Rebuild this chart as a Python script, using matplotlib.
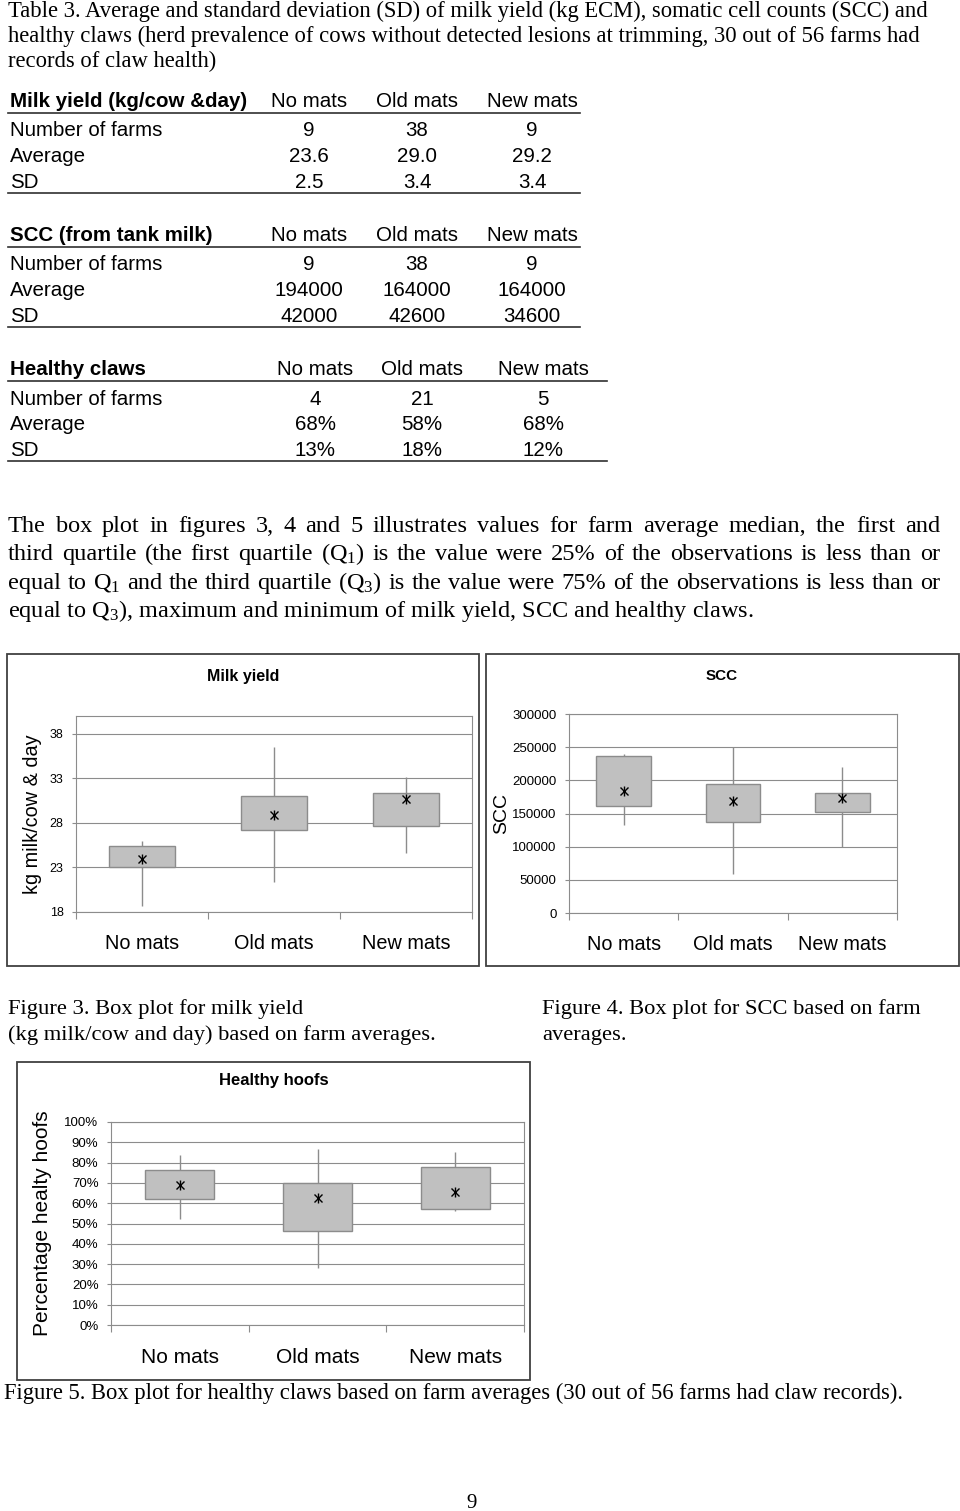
import numpy as np
import matplotlib.pyplot as plt
from matplotlib.patches import Rectangle
from matplotlib.lines import Line2D

plt.rcParams['font.family'] = ['Liberation Serif', 'DejaVu Serif']
plt.rcParams['mathtext.default'] = 'regular'

W, H = 960, 1511
SANS = 'Liberation Sans'

groups = ['No mats', 'Old mats', 'New mats']

# Table 3 values
milk_n = [9, 38, 9]
milk_avg = [23.6, 29.0, 29.2]
milk_sd = [2.5, 3.4, 3.4]
scc_n = [9, 38, 9]
scc_avg = [194000, 164000, 164000]
scc_sd = [42000, 42600, 34600]
claw_n = [4, 21, 5]
claw_avg = [68, 58, 68]
claw_sd = [13, 18, 12]

# box plots: min, Q1, median, Q3, max
milk_min = [18.7, 21.4, 24.6]
milk_q1 = [23.1, 27.2, 27.6]
milk_med = [23.9, 28.9, 30.7]
milk_q3 = [25.4, 31.0, 31.4]
milk_max = [26.0, 36.5, 33.1]

scc_min = [132000, 59000, 99000]
scc_q1 = [162000, 137000, 152000]
scc_med = [184000, 169000, 173000]
scc_q3 = [236000, 194000, 181000]
scc_max = [240000, 250000, 220000]

claw_min = [52, 28, 56]
claw_q1 = [62, 46.5, 57]
claw_med = [69, 62.8, 65.4]
claw_q3 = [76.3, 70, 77.8]
claw_max = [83.5, 86.8, 85.2]

fig = plt.figure(figsize=(W / 100, H / 100), dpi=100)


def fy(y):
    return 1 - y / H


def txt(x, y, s, **kw):
    return fig.text(x / W, fy(y), s, va='baseline', **kw)


def hline(x0, x1, y, lw=1.2, color='#303030'):
    fig.add_artist(Line2D([x0 / W, x1 / W], [fy(y), fy(y)], color=color, lw=lw))


def frame(x0, y0, x1, y1):
    fig.add_artist(Rectangle((x0 / W, fy(y1)), (x1 - x0) / W, (y1 - y0) / H,
                             fill=False, ec='#404040', lw=1.3, transform=fig.transFigure))


def justify(words, x0, x1, y, size):
    ts = [txt(0, y, w, fontsize=size) for w in words]
    r = fig.canvas.get_renderer()
    widths = [t.get_window_extent(r).width for t in ts]
    gap = (x1 - x0 - sum(widths)) / (len(words) - 1)
    x = x0
    for t, w in zip(ts, widths):
        t.set_x(x / W)
        x += w + gap


# caption of table
cap = ['Table 3. Average and standard deviation (SD) of milk yield (kg ECM), somatic cell counts (SCC) and',
       'healthy claws (herd prevalence of cows without detected lesions at trimming, 30 out of 56 farms had',
       'records of claw health)']
for i, line in enumerate(cap):
    txt(8, 17 + 25 * i, line, fontsize=16.3)

TS = 14.8


def table(title, n, avg, sd, cols, xend, base):
    txt(10, base, title, fontsize=TS, fontweight='bold', family=SANS)
    for c, g in zip(cols, groups):
        txt(c, base, g, fontsize=TS, family=SANS, ha='center')
    hline(8, xend, base + 6)
    for k, (lab, vals) in enumerate(zip(['Number of farms', 'Average', 'SD'], [n, avg, sd])):
        yb = base + 29.5 + 26 * k
        txt(10, yb, lab, fontsize=TS, family=SANS)
        for c, v in zip(cols, vals):
            txt(c, yb, v, fontsize=TS, family=SANS, ha='center')
    hline(8, xend, base + 86)


table('Milk yield (kg/cow &day)', [str(v) for v in milk_n], [f'{v:.1f}' for v in milk_avg],
      [f'{v:.1f}' for v in milk_sd], [309, 417, 532], 580, 107)
table('SCC (from tank milk)', [str(v) for v in scc_n], [str(v) for v in scc_avg],
      [str(v) for v in scc_sd], [309, 417, 532], 580, 241)
table('Healthy claws', [str(v) for v in claw_n], [f'{v}%' for v in claw_avg],
      [f'{v}%' for v in claw_sd], [315, 422, 543], 607, 375)

# paragraph
PS = 17.5
para = ['The box plot in figures 3, 4 and 5 illustrates values for farm average median, the first and',
        'third quartile (the first quartile (Q$_1$) is the value were 25% of the observations is less than or',
        'equal to Q$_1$ and the third quartile (Q$_3$) is the value were 75% of the observations is less than or']
for i, line in enumerate(para):
    justify(line.split(' '), 8, 940, 532 + 28.3 * i, PS)
txt(8, 532 + 28.3 * 3, 'equal to Q$_3$), maximum and minimum of milk yield, SCC and healthy claws.', fontsize=PS)


def boxchart(px, mins, q1, med, q3, maxs, ylim, yticks, ylabels, ylabel, lab_x,
             ticksize, catsize, labsize, catpad):
    x0, y0, x1, y1 = px
    ax = fig.add_axes([x0 / W, fy(y1), (x1 - x0) / W, (y1 - y0) / H])
    pos = np.arange(len(groups))
    q1 = np.array(q1)
    q3 = np.array(q3)
    ax.vlines(pos, mins, maxs, color='#8c8c8c', lw=1, zorder=2)
    ax.bar(pos, q3 - q1, bottom=q1, width=0.5, color='#c0c0c0', edgecolor='#8c8c8c', lw=1, zorder=3)
    ax.plot(pos, med, ls='none', marker='x', ms=6, mew=1, color='black', zorder=4)
    ax.plot(pos, med, ls='none', marker='|', ms=7, mew=1, color='black', zorder=4)
    ax.set_xlim(-0.5, 2.5)
    ax.set_ylim(ylim)
    ax.set_yticks(yticks, ylabels, fontsize=ticksize, family=SANS)
    ax.set_xticks([-0.5, 0.5, 1.5, 2.5], ['', '', '', ''])
    ax.set_xticks(pos, groups, minor=True, fontsize=catsize, family=SANS)
    ax.tick_params(axis='x', which='minor', length=0, pad=catpad)
    ax.tick_params(axis='x', which='major', length=5, color='#8c8c8c')
    ax.tick_params(axis='y', length=3, pad=6, color='#8c8c8c')
    ax.yaxis.grid(True, color='#8c8c8c', lw=0.8)
    ax.set_axisbelow(True)
    for s in ax.spines.values():
        s.set_color('#8c8c8c')
    ax.set_ylabel(ylabel, fontsize=labsize, family=SANS, va='center')
    ax.yaxis.set_label_coords(lab_x, 0.5)
    return ax


# Figure 3 - milk yield
frame(7, 654, 479, 966)
fig.text(243 / W, fy(676), 'Milk yield', fontsize=11.5, fontweight='bold', family=SANS, ha='center', va='center')
boxchart((76, 716, 472, 912), milk_min, milk_q1, milk_med, milk_q3, milk_max, (18, 40),
         [18, 23, 28, 33, 38], ['18', '23', '28', '33', '38'], 'kg milk/cow & day', -0.111,
         9, 14.3, 14.3, 16)

# Figure 4 - SCC
frame(486, 654, 959, 966)
fig.text(722 / W, fy(676), 'SCC', fontsize=11, fontweight='bold', family=SANS, ha='center', va='center')
sticks = list(range(0, 300001, 50000))
boxchart((569, 714, 897, 913), scc_min, scc_q1, scc_med, scc_q3, scc_max, (0, 300000),
         sticks, [str(v) for v in sticks], 'SCC', -0.204, 9.5, 14.3, 14, 16)

txt(8, 1014, 'Figure 3. Box plot for milk yield', fontsize=16.2)
txt(8, 1040, '(kg milk/cow and day) based on farm averages.', fontsize=16.2)
txt(542, 1014, 'Figure 4. Box plot for SCC based on farm', fontsize=16.2)
txt(542, 1040, 'averages.', fontsize=16.2)

# Figure 5 - healthy claws
frame(17, 1062, 530, 1380)
fig.text(274 / W, fy(1080), 'Healthy hoofs', fontsize=12, fontweight='bold', family=SANS, ha='center', va='center')
cticks = list(range(0, 101, 10))
boxchart((111, 1122, 524, 1325), claw_min, claw_q1, claw_med, claw_q3, claw_max, (0, 100),
         cticks, [f'{v}%' for v in cticks], 'Percentage healty hoofs', -0.165, 9.5, 15, 15, 16.5)

txt(4, 1399, 'Figure 5. Box plot for healthy claws based on farm averages (30 out of 56 farms had claw records).',
    fontsize=16.3)
txt(472, 1508, '9', fontsize=15, ha='center')

fig.savefig('out.png', dpi=100)
